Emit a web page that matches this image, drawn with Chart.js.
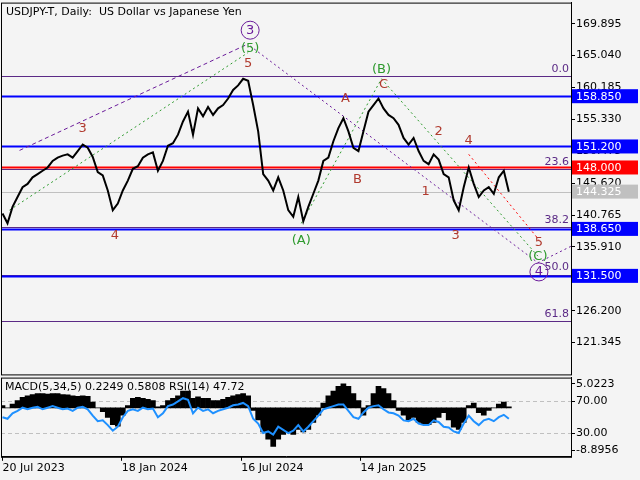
<!DOCTYPE html><html><head><meta charset="utf-8">
<script src="https://cdn.jsdelivr.net/npm/chart.js@4.4.0/dist/chart.umd.min.js"></script>
<style>html,body{margin:0;padding:0;background:#f4f4f4;width:640px;height:480px;overflow:hidden}
#a{position:absolute;left:0;top:-5px}#b{position:absolute;left:0;top:370px}</style></head><body>
<canvas id="a" width="640" height="387"></canvas><canvas id="b" width="640" height="106"></canvas>
<script>
const priceWeekly=[141,139.5,142,143.5,145,145.5,146.5,147,147.5,148,149,149.5,149.8,150,149.5,150.5,151.5,151,149.6,147.3,146.8,144.5,141.5,142.5,144.5,146,147.8,148.2,149.5,150,150.3,147.5,149,151.3,151.7,153,155,156.5,153,157,155.8,157.2,156,157,157.5,158.5,159.8,160.5,161.5,161.2,157.5,153.5,147,146,144.5,146.5,144.5,141.5,140.5,143.5,139.8,142,144,146,149,149.5,152,154,155.5,153.5,151,150.5,153.5,156.5,157.5,158.5,157,156,155.5,154.5,152.5,151.5,152.5,150.5,149,148.5,150,149.2,147,146.5,143,141.5,145,148,145.5,143.5,144.5,145,144,146.5,147.5,144.3];
const rsiWeekly=[50,48,55,58,62,60,62,63,60,62,64,62,60,61,58,62,63,60,52,45,46,40,33,38,50,58,60,58,62,60,61,50,55,64,66,70,74,72,55,62,58,60,55,58,60,62,65,66,68,64,48,42,30,32,28,38,34,30,33,40,32,38,45,52,60,62,64,66,66,58,50,48,56,62,64,65,60,56,55,52,46,45,48,42,40,40,46,44,38,37,32,30,42,52,45,40,46,48,45,50,53,48];
const macdWeekly=[0.5,0,0.8,1.5,2.2,2.5,2.8,3,3,2.9,3,3,2.8,2.7,2.5,2.4,2.5,2.4,1.2,0,-0.8,-2,-3.5,-3.8,-1.5,0.5,2,2.2,2,1.8,1.5,0.2,0.5,1.5,2,2.5,3.5,3.5,2,2.3,2,2,1.5,1.5,1.8,2.2,2.5,2.8,3,2.5,-0.5,-2.5,-5,-6.5,-8,-6.5,-5.5,-5,-5.5,-4.5,-5,-4.5,-3,-1.5,1,2.5,3.5,4.5,5,4.5,3,1.5,-1.5,0.5,3,4.5,4,3,1.5,-0.5,-1.5,-2.5,-2,-3,-3.5,-3.5,-3,-2,-1,-2.5,-4,-4.5,-3,0.5,1,-1,-1.5,-0.5,0,0.8,1.2,0.2];
const priceTicks=[169.895,165.040,160.185,155.330,150.475,145.620,140.765,135.910,131.055,126.200,121.345];
const dateTicks=[0,23.8,47.6,71.4];
const dateLabels=["20 Jul 2023","18 Jan 2024","16 Jul 2024","14 Jan 2025"];
const levelsBlue=[158.850,151.200,138.650,131.500];
const levelRed=148.000, currentPrice=144.325;
const fibLevels=[[161.95,"0.0"],[147.7,"23.6"],[138.9,"38.2"],[131.7,"50.0"],[124.6,"61.8"]];
const waveLabels=[[49.4,168.9,"3","#6a1b9a",true],[49.4,166.1,"(5)","#2e9a2e",false],[49,163.8,"5","#b03a2e",false],[16,153.9,"3","#b03a2e",false],[22.4,137.6,"4","#b03a2e",false],[59.6,136.9,"(A)","#2e9a2e",false],[68.4,158.5,"A","#b03a2e",false],[70.8,146.1,"B","#b03a2e",false],[75.6,162.9,"(B)","#2e9a2e",false],[76,160.6,"C","#b03a2e",false],[87,153.5,"2","#b03a2e",false],[93,152.1,"4","#b03a2e",false],[84.4,144.4,"1","#b03a2e",false],[90.4,137.6,"3","#b03a2e",false],[107,136.6,"5","#b03a2e",false],[106.8,134.4,"(C)","#2e9a2e",false],[107,132.1,"4","#6a1b9a",true]];
const pathPurple1=[{x:3.4,y:150.6},{x:48.4,y:166.6}];
const pathGreen1=[{x:1.4,y:141.5},{x:49,y:165.5}];
const pathPurple2=[{x:49.4,y:166.5},{x:106.8,y:133.5},{x:113.4,y:136}];
const pathGreen2=[{x:59.6,y:139.5},{x:75.6,y:161.5},{x:106.8,y:134.5}];
const pathRed=[{x:93,y:150},{x:107,y:137}];
const XMAX=113.4, F='"DejaVu Sans", sans-serif';
const pts=a=>a.map((v,i)=>({x:i,y:v}));
function dl(d,c,dash,w){return {type:'line',data:d,borderColor:c,borderWidth:w||1,borderDash:dash,pointRadius:0,tension:0,order:5};}
const overlay={id:'ov',beforeDatasetsDraw(c){const g=c.ctx,x=c.scales.x,y=c.scales.y,L=c.chartArea.left,R=c.chartArea.right;
 const hl=(v,col,w)=>{g.save();g.strokeStyle=col;g.lineWidth=w;g.beginPath();g.moveTo(L,Math.round(y.getPixelForValue(v))+0.5);g.lineTo(R,Math.round(y.getPixelForValue(v))+0.5);g.stroke();g.restore();};
 fibLevels.forEach(f=>hl(f[0],'#5b2a86',1));hl(currentPrice,'#c0c0c0',1);levelsBlue.forEach(v=>hl(v,'#0000ff',2));hl(levelRed,'#ff0000',2);},
 afterDatasetsDraw(c){const g=c.ctx,x=c.scales.x,y=c.scales.y,R=c.chartArea.right;g.save();g.font='11px '+F;g.textBaseline='middle';
 g.textAlign='right';g.fillStyle='#5b2a86';fibLevels.forEach(f=>g.fillText(f[1],R-2,y.getPixelForValue(f[0])-7));
 g.textAlign='center';g.font='13px '+F;
 waveLabels.forEach(w=>{const px=x.getPixelForValue(w[0]),py=y.getPixelForValue(w[1]);g.fillStyle=w[3];g.fillText(w[2],px,py);if(w[4]){g.strokeStyle=w[3];g.lineWidth=1;g.beginPath();g.arc(px,py,9,0,7);g.stroke();}});
 const box=(v,bg,fg)=>{const py=y.getPixelForValue(v);g.fillStyle=bg;g.fillRect(R+1,py-7,66,14);g.fillStyle=fg;g.font='11px '+F;g.textAlign='left';g.fillText(v.toFixed(3),R+5,py+0.5);};
 levelsBlue.forEach(v=>box(v,'#0000ff','#fff'));box(levelRed,'#ff0000','#fff');box(currentPrice,'#c0c0c0','#fff');
 g.strokeStyle='#000';g.lineWidth=1;g.strokeRect(c.chartArea.left+0.5,c.chartArea.top+0.5,c.chartArea.width,c.chartArea.height);
 g.fillStyle='#000';g.textAlign='left';g.font='11px '+F;g.fillText('USDJPY-T, Daily:  US Dollar vs Japanese Yen',6,c.chartArea.top+10);g.restore();}};
new Chart(document.getElementById('a'),{type:'line',data:{datasets:[
 {data:pts(priceWeekly),borderColor:'#000',borderWidth:2,pointRadius:0,tension:0,order:1},
 dl(pathPurple1,'#6a1b9a',[4,3]),dl(pathGreen1,'#2e9a2e',[2,3]),dl(pathPurple2,'#6a1b9a',[2,3]),dl(pathGreen2,'#2e9a2e',[2,3]),dl(pathRed,'#ff0000',[2,3])]},
 plugins:[overlay],options:{animation:false,responsive:false,layout:{padding:{left:1,top:2,right:0,bottom:0}},plugins:{legend:{display:false},tooltip:{enabled:false}},
 scales:{x:{type:'linear',min:-0.3,max:XMAX,display:false},
 y:{position:'right',min:116.5,max:173.1,afterBuildTicks:s=>{s.ticks=priceTicks.map(v=>({value:v}));},afterFit:s=>{s.width=69;},
  grid:{drawOnChartArea:false,tickLength:4,color:'#000'},border:{color:'#000'},ticks:{color:'#000',font:{family:F,size:11},padding:1,callback:v=>v.toFixed(3)}}}}});
const ov2={id:'ov2',beforeDatasetsDraw(c){const g=c.ctx,r=c.scales.rsi,L=c.chartArea.left,R=c.chartArea.right;g.save();g.strokeStyle='#c0c0c0';g.setLineDash([4,3]);
 [70,30].forEach(v=>{const p=Math.round(r.getPixelForValue(v))+0.5;g.beginPath();g.moveTo(L,p);g.lineTo(R,p);g.stroke();});g.restore();},
 afterDatasetsDraw(c){const g=c.ctx;g.save();g.strokeStyle='#000';g.strokeRect(c.chartArea.left+0.5,c.chartArea.top+0.5,c.chartArea.width,c.chartArea.height);
 g.fillStyle='#000';g.font='11px '+F;g.textBaseline='middle';g.fillText('MACD(5,34,5) 0.2249 0.5808 RSI(14) 47.72',5,c.chartArea.top+10);g.restore();}};
new Chart(document.getElementById('b'),{data:{datasets:[
 {type:'bar',data:pts(macdWeekly),backgroundColor:'#000',barPercentage:1,categoryPercentage:1,yAxisID:'y',order:2},
 {type:'line',data:pts(rsiWeekly),borderColor:'#1e90ff',borderWidth:2,pointRadius:0,tension:0,yAxisID:'rsi',order:1}]},
 plugins:[ov2],options:{animation:false,responsive:false,layout:{padding:{left:1,top:1,right:0,bottom:0}},plugins:{legend:{display:false},tooltip:{enabled:false}},
 scales:{x:{type:'linear',offset:false,min:-0.3,max:XMAX,afterBuildTicks:s=>{s.ticks=dateTicks.map(v=>({value:v}));},grid:{offset:false,drawOnChartArea:false,tickLength:4,color:'#000'},border:{color:'#000'},
  ticks:{color:'#000',font:{family:F,size:11},align:'start',maxRotation:0,padding:1,callback:v=>dateLabels[dateTicks.indexOf(v)]}},
 y:{position:'right',min:-10.18,max:6.31,afterBuildTicks:s=>{s.ticks=[5.0223,1.39,-5.25,-8.8956].map(v=>({value:v}));},afterFit:s=>{s.width=69;},
  grid:{drawOnChartArea:false,tickLength:4,color:'#000'},border:{color:'#000'},ticks:{color:'#000',font:{family:F,size:11},padding:1,callback:(v,i)=>["5.0223","70.00","30.00","-8.8956"][i]}},
 rsi:{type:'linear',axis:'y',position:'left',display:false,min:0,max:100}}}});
</script></body></html>
